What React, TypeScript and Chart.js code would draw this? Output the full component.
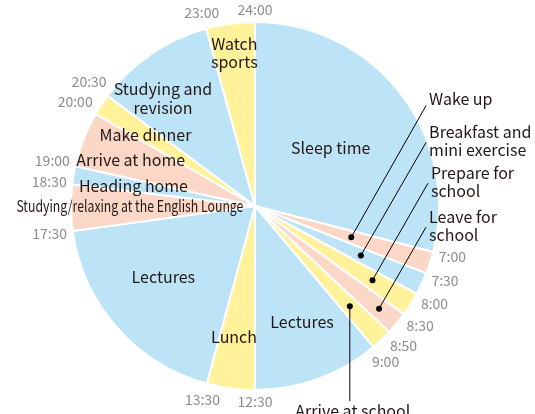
import { useEffect, useRef } from "react";
import { Chart, ArcElement, PieController } from "chart.js";

Chart.register(ArcElement, PieController);

// ---- data ----
const activities = [
  "Sleep time", "Wake up", "Breakfast and\nmini exercise", "Prepare for\nschool",
  "Leave for\nschool", "Arrive at school", "Lectures", "Lunch", "Lectures",
  "Studying/relaxing at the English Lounge", "Heading home", "Arrive at home",
  "Make dinner", "Studying and\nrevision", "Watch\nsports",
];
const startTimes = [
  "24:00", "7:00", "7:30", "8:00", "8:30", "8:50", "9:00", "12:30", "13:30",
  "17:30", "18:30", "19:00", "20:00", "20:30", "23:00",
];
// angular share of each slice (degrees of the 360° dial)
const sliceShare = [104.5, 7, 7, 7.5, 7.2, 6.8, 40, 15.2, 67, 14.5, 5.8, 17.5, 6.8, 37.8, 15.4];
const colourKind = [
  "blue", "peach", "blue", "yellow", "peach", "yellow", "blue", "yellow", "blue",
  "peach", "blue", "peach", "yellow", "blue", "yellow",
];

// ---- styling / layout ----
const FONT = '"Noto Sans CJK JP", "Noto Sans", sans-serif';
const PALETTE: Record<string, string> = {
  blue: "#bde3f7",
  peach: "#fbd7c8",
  yellow: "#fff29b",
};
const TEXT = "#231815";
const TIME_TEXT = "#8c8c8c";
const DEG = Math.PI / 180;

// inside labels: slice index, radius fraction, angle tweak (deg), optional max width
const insideLayout = [
  { i: 0, r: 0.52, off: 0 },
  { i: 6, r: 0.68, off: -2.1 },
  { i: 7, r: 0.72, off: 1.5 },
  { i: 8, r: 0.63, off: 3.6 },
  { i: 9, r: 0.68, off: 0.8, maxW: 227 },
  { i: 10, r: 0.67, off: 0 },
  { i: 11, r: 0.72, off: -1 },
  { i: 12, r: 0.71, off: -0.4 },
  { i: 13, r: 0.77, off: -6.2 },
  { i: 14, r: 0.84, off: 0 },
];
// callouts to the right: slice index, dot radius fraction, line end (fractions of R from centre)
const calloutLayout = [
  { i: 1, dot: 0.55, ax: 0.93, ay: -0.546, dy: -7 },
  { i: 2, dot: 0.635, ax: 0.93, ay: -0.346, dy: -10.5 },
  { i: 3, dot: 0.755, ax: 0.94, ay: -0.124, dy: -10.5 },
  { i: 4, dot: 0.875, ax: 0.93, ay: 0.114, dy: -10.5 },
];

const labelPlugin = {
  id: "dayLabels",
  afterDatasetsDraw(chart: any) {
    const ctx: CanvasRenderingContext2D = chart.ctx;
    const arcs = chart.getDatasetMeta(0).data;
    if (!arcs.length) return;
    const p0 = arcs[0].getProps(["x", "y", "outerRadius"], true);
    const cx = p0.x, cy = p0.y, R = p0.outerRadius;
    const pt = (a: number, r: number) => [cx + r * Math.cos(a), cy + r * Math.sin(a)];
    const angles = (i: number) => arcs[i].getProps(["startAngle", "endAngle"], true);
    ctx.save();

    // time labels at each slice start
    ctx.font = `14px ${FONT}`;
    ctx.fillStyle = TIME_TEXT;
    ctx.textAlign = "center";
    ctx.textBaseline = "middle";
    arcs.forEach((_: any, i: number) => {
      const a = angles(i).startAngle;
      const w = ctx.measureText(startTimes[i]).width;
      const r = R + 5 + (Math.abs(Math.cos(a)) * w) / 2 + Math.abs(Math.sin(a)) * 7;
      const [x, y] = pt(a, r);
      ctx.fillText(startTimes[i], x, y);
    });

    // inside labels
    ctx.font = `16px ${FONT}`;
    ctx.fillStyle = TEXT;
    insideLayout.forEach((L) => {
      const { startAngle, endAngle } = angles(L.i);
      const a = (startAngle + endAngle) / 2 + L.off * DEG;
      const [x, y] = pt(a, L.r * R);
      const lines = activities[L.i].split("\n");
      const lh = 18.5;
      lines.forEach((line, k) => {
        const ly = y + (k - (lines.length - 1) / 2) * lh;
        if (L.maxW) ctx.fillText(line, x, ly, L.maxW);
        else ctx.fillText(line, x, ly);
      });
    });

    // right-hand callouts
    ctx.strokeStyle = "#000";
    ctx.lineWidth = 1;
    calloutLayout.forEach((C) => {
      const { startAngle, endAngle } = angles(C.i);
      const a = (startAngle + endAngle) / 2;
      const [dx, dy] = pt(a, C.dot * R);
      const ex = cx + C.ax * R, ey = cy + C.ay * R;
      ctx.beginPath();
      ctx.moveTo(dx, dy);
      ctx.lineTo(ex, ey);
      ctx.stroke();
      ctx.beginPath();
      ctx.arc(dx, dy, 3, 0, Math.PI * 2);
      ctx.fillStyle = "#000";
      ctx.fill();
      ctx.fillStyle = TEXT;
      ctx.textAlign = "left";
      const lines = activities[C.i].split("\n");
      lines.forEach((line, k) => ctx.fillText(line, ex + 3, ey + C.dy + k * 18.5));
    });

    // arrive at school: vertical callout down
    {
      const { startAngle, endAngle } = angles(5);
      const a = (startAngle + endAngle) / 2;
      const [dx, dy] = pt(a, 0.75 * R);
      ctx.beginPath();
      ctx.moveTo(dx, dy);
      ctx.lineTo(dx, cy + 1.06 * R);
      ctx.stroke();
      ctx.beginPath();
      ctx.arc(dx, dy, 3, 0, Math.PI * 2);
      ctx.fillStyle = "#000";
      ctx.fill();
      ctx.fillStyle = TEXT;
      ctx.textAlign = "center";
      ctx.textBaseline = "alphabetic";
      ctx.fillText(activities[5], dx + 3, cy + 1.146 * R);
    }
    ctx.restore();
  },
};

export default function App() {
  const ref = useRef<HTMLCanvasElement>(null);
  useEffect(() => {
    if (!ref.current) return;
    const chart = new Chart(ref.current, {
      type: "pie",
      data: {
        labels: activities,
        datasets: [
          {
            data: sliceShare,
            backgroundColor: colourKind.map((k) => PALETTE[k]),
            borderColor: "#ffffff",
            borderWidth: 2,
          },
        ],
      },
      options: {
        responsive: false,
        animation: false,
        layout: { padding: { left: 70, right: 95, top: 21, bottom: 23 } },
        plugins: { legend: { display: false }, tooltip: { enabled: false } },
      },
      plugins: [labelPlugin],
    });
    return () => chart.destroy();
  }, []);
  return (
    <div style={{ position: "fixed", left: 0, top: 0, width: 535, height: 414, background: "#fff" }}>
      <canvas ref={ref} width={535} height={414} />
    </div>
  );
}
